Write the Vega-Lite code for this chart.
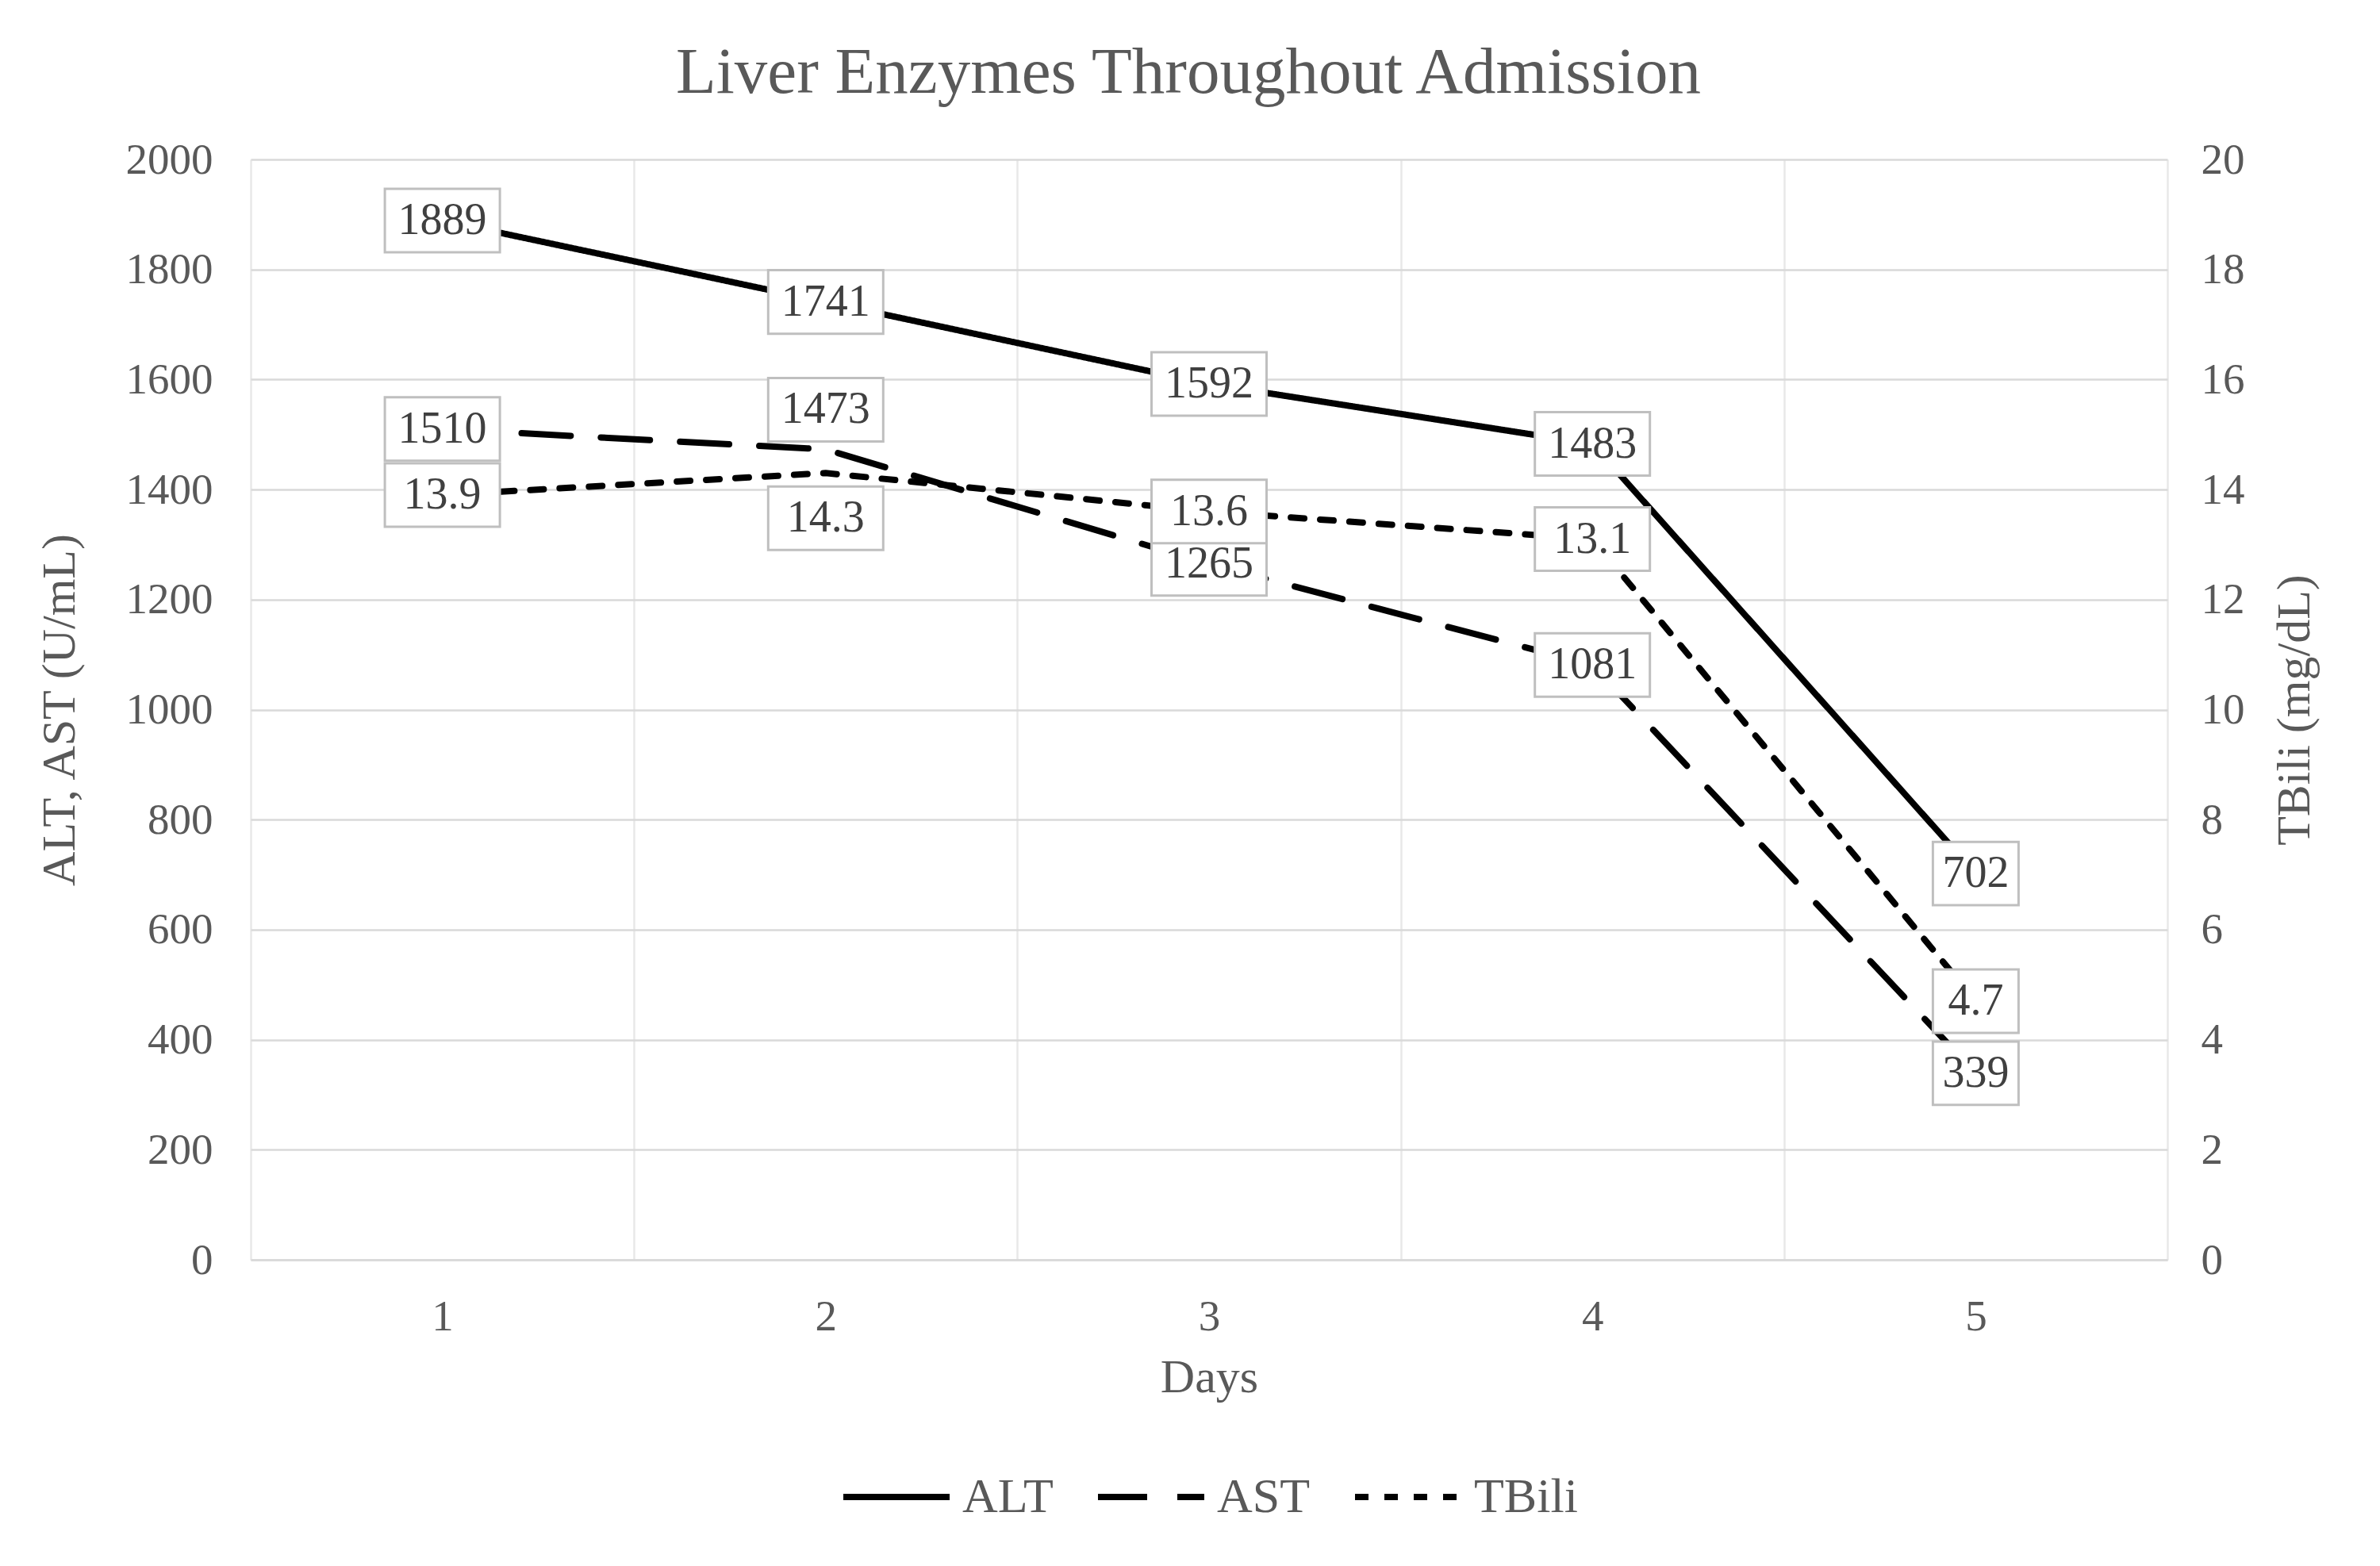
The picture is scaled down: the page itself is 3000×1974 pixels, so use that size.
{
  "$schema": "https://vega.github.io/schema/vega-lite/v6.json",
  "autosize": "none",
  "width": 2416,
  "height": 1387,
  "padding": {"left": 316, "top": 201, "right": 268, "bottom": 386},
  "background": "white",
  "title": {
    "text": "Liver Enzymes Throughout Admission",
    "font": "Liberation Serif", "fontSize": 83, "fontWeight": "normal",
    "color": "#595959", "offset": 40, "dx": -26
  },
  "data": {
    "values": [
      {"day": 1, "series": "ALT", "value": 1889},
      {"day": 2, "series": "ALT", "value": 1741},
      {"day": 3, "series": "ALT", "value": 1592},
      {"day": 4, "series": "ALT", "value": 1483},
      {"day": 5, "series": "ALT", "value": 702},
      {"day": 1, "series": "AST", "value": 1510},
      {"day": 2, "series": "AST", "value": 1473},
      {"day": 3, "series": "AST", "value": 1265},
      {"day": 4, "series": "AST", "value": 1081},
      {"day": 5, "series": "AST", "value": 339},
      {"day": 1, "series": "TBili", "value": 13.9},
      {"day": 2, "series": "TBili", "value": 14.3},
      {"day": 3, "series": "TBili", "value": 13.6},
      {"day": 4, "series": "TBili", "value": 13.1},
      {"day": 5, "series": "TBili", "value": 4.7}
    ]
  },
  "encoding": {
    "x": {
      "field": "day", "type": "ordinal",
      "scale": {"type": "band", "paddingInner": 0, "paddingOuter": 0},
      "axis": {
        "title": "Days", "labelAngle": 0, "tickBand": "extent",
        "grid": true, "gridColor": "#e8e8e8", "gridWidth": 2.5,
        "domain": true, "domainColor": "#d9d9d9", "domainWidth": 2.5,
        "ticks": false, "labelPadding": 45, "titlePadding": 20
      }
    }
  },
  "layer": [
    {
      "transform": [{"filter": "datum.series != 'TBili'"}],
      "encoding": {
        "y": {
          "field": "value", "type": "quantitative",
          "scale": {"domain": [0, 2000]},
          "axis": {
            "title": "ALT, AST (U/mL)", "orient": "left", "format": "d",
            "values": [0, 200, 400, 600, 800, 1000, 1200, 1400, 1600, 1800, 2000],
            "grid": true, "gridColor": "#d9d9d9", "gridWidth": 2.5,
            "domain": false, "ticks": false, "labelPadding": 48, "titlePadding": 52
          }
        }
      },
      "layer": [
        {
          "mark": {"type": "line", "color": "black", "strokeWidth": 8, "strokeCap": "round"},
          "encoding": {
            "strokeDash": {
              "field": "series", "type": "nominal",
              "scale": {"domain": ["ALT", "AST", "TBili"], "range": [[1, 0], [62, 38], [17, 20]]},
              "legend": {"title": null}
            }
          }
        },
        {
          "transform": [{"filter": "!(datum.day == 2 && datum.series == 'AST')"}],
          "mark": {"type": "point", "filled": true, "fill": "white", "stroke": "#bfbfbf", "strokeWidth": 3, "opacity": 1},
          "encoding": {
            "shape": {"condition": {"test": "datum.value < 1000", "value": "M-1,-0.74H1V0.74H-1Z"}, "value": "M-1,-0.552H1V0.552H-1Z"},
            "size": {"condition": {"test": "datum.value < 1000", "value": 11664}, "value": 21025}
          }
        },
        {
          "transform": [{"filter": "!(datum.day == 2 && datum.series == 'AST')"}],
          "mark": {"type": "text", "font": "Liberation Serif", "fontSize": 56, "color": "#404040", "baseline": "middle"},
          "encoding": {"text": {"field": "value", "type": "quantitative", "format": "d"}}
        },
        {
          "transform": [{"filter": "datum.day == 2 && datum.series == 'AST'"}],
          "mark": {"type": "point", "filled": true, "fill": "white", "stroke": "#bfbfbf", "strokeWidth": 3, "opacity": 1, "yOffset": -50},
          "encoding": {
            "shape": {"value": "M-1,-0.552H1V0.552H-1Z"},
            "size": {"value": 21025}
          }
        },
        {
          "transform": [{"filter": "datum.day == 2 && datum.series == 'AST'"}],
          "mark": {"type": "text", "font": "Liberation Serif", "fontSize": 56, "color": "#404040", "baseline": "middle", "dy": -50},
          "encoding": {"text": {"field": "value", "type": "quantitative", "format": "d"}}
        }
      ]
    },
    {
      "transform": [{"filter": "datum.series == 'TBili'"}],
      "encoding": {
        "y": {
          "field": "value", "type": "quantitative",
          "scale": {"domain": [0, 20]},
          "axis": {
            "title": "TBili (mg/dL)", "orient": "right", "titleAngle": 270,
            "values": [0, 2, 4, 6, 8, 10, 12, 14, 16, 18, 20],
            "grid": false, "domain": false, "ticks": false, "labelPadding": 42, "titlePadding": 94
          }
        }
      },
      "layer": [
        {
          "mark": {"type": "line", "color": "black", "strokeWidth": 8, "strokeCap": "round"},
          "encoding": {
            "strokeDash": {
              "field": "series", "type": "nominal",
              "scale": {"domain": ["ALT", "AST", "TBili"], "range": [[1, 0], [62, 38], [17, 20]]},
              "legend": {"title": null}
            }
          }
        },
        {
          "transform": [{"filter": "datum.day != 2"}],
          "mark": {"type": "point", "filled": true, "fill": "white", "stroke": "#bfbfbf", "strokeWidth": 3, "opacity": 1},
          "encoding": {
            "shape": {"condition": {"test": "datum.value < 10", "value": "M-1,-0.74H1V0.74H-1Z"}, "value": "M-1,-0.552H1V0.552H-1Z"},
            "size": {"condition": {"test": "datum.value < 10", "value": 11664}, "value": 21025}
          }
        },
        {
          "transform": [{"filter": "datum.day != 2"}],
          "mark": {"type": "text", "font": "Liberation Serif", "fontSize": 56, "color": "#404040", "baseline": "middle"},
          "encoding": {"text": {"field": "value", "type": "quantitative", "format": ".1f"}}
        },
        {
          "transform": [{"filter": "datum.day == 2"}],
          "mark": {"type": "point", "filled": true, "fill": "white", "stroke": "#bfbfbf", "strokeWidth": 3, "opacity": 1, "yOffset": 57},
          "encoding": {
            "shape": {"value": "M-1,-0.552H1V0.552H-1Z"},
            "size": {"value": 21025}
          }
        },
        {
          "transform": [{"filter": "datum.day == 2"}],
          "mark": {"type": "text", "font": "Liberation Serif", "fontSize": 56, "color": "#404040", "baseline": "middle", "dy": 57},
          "encoding": {"text": {"field": "value", "type": "quantitative", "format": ".1f"}}
        }
      ]
    }
  ],
  "resolve": {"scale": {"y": "independent"}, "axis": {"y": "independent"}},
  "config": {
    "view": {"stroke": null},
    "axis": {
      "labelFont": "Liberation Serif", "labelFontSize": 55, "labelColor": "#595959",
      "titleFont": "Liberation Serif", "titleFontSize": 60, "titleFontWeight": "normal", "titleColor": "#595959"
    },
    "legend": {
      "orient": "bottom", "direction": "horizontal", "offset": 50,
      "layout": {"anchor": "middle"},
      "labelFont": "Liberation Serif", "labelFontSize": 62, "labelColor": "#595959",
      "symbolType": "stroke", "symbolSize": 17956, "symbolStrokeWidth": 8, "symbolStrokeColor": "black",
      "columnPadding": 40, "labelOffset": 12
    }
  }
}
